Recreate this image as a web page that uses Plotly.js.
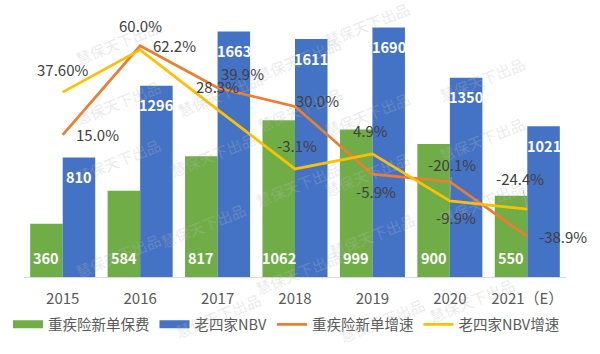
<!DOCTYPE html>
<html>
<head>
<meta charset="utf-8">
<script src="https://cdn.plot.ly/plotly-3.0.1.min.js"></script>
<style>html,body{margin:0;padding:0;background:#fff;}#chart{width:600px;height:354px;}</style>
</head>
<body>
<div id="chart"></div>
<script>
// ---- data ----
const years = ['2015', '2016', '2017', '2018', '2019', '2020', '2021（E）'];
const premium = [360, 584, 817, 1062, 999, 900, 550];          // 重疾险新单保费
const nbv = [810, 1296, 1663, 1611, 1690, 1350, 1021];         // 老四家NBV
const premiumGrowth = [15.0, 62.2, 39.9, 30.0, -5.9, -9.9, -38.9]; // 重疾险新单增速 (%)
const nbvGrowth = [37.6, 60.0, 28.3, -3.1, 4.9, -20.1, -24.4];     // 老四家NBV增速 (%)
const premiumGrowthLabels = ['15.0%', '62.2%', '39.9%', '30.0%', '-5.9%', '-9.9%', '-38.9%'];
const nbvGrowthLabels = ['37.60%', '60.0%', '28.3%', '-3.1%', '4.9%', '-20.1%', '-24.4%'];
const seriesNames = ['重疾险新单保费', '老四家NBV', '重疾险新单增速', '老四家NBV增速'];
const watermarkText = '慧保天下出品';

// ---- styles ----
const FONT = '"Noto Sans CJK SC", "Noto Sans", sans-serif';
const C_GREEN = '#70ad47', C_BLUE = '#4472c4', C_ORANGE = '#ed7d31', C_YELLOW = '#ffc000';
const W = 600, H = 354, ML = 24, MR = 34, MT = 5, MB = 76.5;
const PW = W - ML - MR, PH = H - MT - MB;

// label offsets (pixels) for growth labels
const orangeOff = [[35,0],[34,0],[25,14],[22,6],[4,-17],[6,-36],[36,0]];
const yellowOff = [[0,23],[0,24],[0,23],[2,23],[-2,23],[2,36],[-7,31]];
const yellowLeader = [false,false,false,false,false,true,true];

// watermark pixel positions
const wmPos = [
  [70,13],[70,103],[70,190],[70,285],
  [172,65],[165,155],[155,255],[170,345],
  [298,30],[300,110],[298,214],[298,302],
  [415,-5],[415,85],[415,175],[420,265],[430,350],
  [530,50],[530,140],[530,232],[520,330]
];

const traces = [
  {type:'scatter', x:[years[0]], y:[null], mode:'lines', name:seriesNames[0], line:{color:C_GREEN, width:8}, hoverinfo:'skip'},
  {type:'scatter', x:[years[0]], y:[null], mode:'lines', name:seriesNames[1], line:{color:C_BLUE, width:8}, hoverinfo:'skip'},
  {type:'bar', x:years, y:premium, name:seriesNames[0], marker:{color:C_GREEN}, showlegend:false},
  {type:'bar', x:years, y:nbv, name:seriesNames[1], marker:{color:C_BLUE}, showlegend:false},
  {type:'scatter', mode:'lines', x:years, y:premiumGrowth, yaxis:'y2', name:seriesNames[2], line:{color:C_ORANGE, width:2.75}},
  {type:'scatter', mode:'lines', x:years, y:nbvGrowth, yaxis:'y2', name:seriesNames[3], line:{color:C_YELLOW, width:2.75}}
];

const annotations = [];
wmPos.forEach(p => {
  annotations.push({xref:'paper', yref:'paper', x:(p[0]-ML)/PW, y:(H-MB-p[1])/PH,
    text:watermarkText, showarrow:false, textangle:-22,
    font:{family:FONT, size:15, color:'rgba(185,185,185,0.30)'}});
});
years.forEach((yr, i) => {
  annotations.push({xref:'x', yref:'y', x:i, y:0, text:String(premium[i]), showarrow:false,
    xshift:-16.25, yshift:19.5, font:{family:FONT, size:14.5, color:'#ffffff', weight:'bold'}});
  annotations.push({xref:'x', yref:'y', x:i, y:nbv[i], text:String(nbv[i]), showarrow:false,
    xshift:16.25, yshift:-19, font:{family:FONT, size:14.5, color:'#ffffff', weight:'bold'}});
});
const lblFont = {family:FONT, size:15, color:'#404040'};
years.forEach((yr, i) => {
  annotations.push({xref:'x', yref:'y2', x:i, y:premiumGrowth[i], text:premiumGrowthLabels[i],
    showarrow:false, xshift:orangeOff[i][0], yshift:orangeOff[i][1], font:lblFont});
  if (yellowLeader[i]) {
    annotations.push({xref:'x', yref:'y2', x:i, y:nbvGrowth[i], text:nbvGrowthLabels[i],
      showarrow:true, arrowhead:0, arrowwidth:0.8, arrowcolor:'#a6a6a6', standoff:2,
      ax:yellowOff[i][0], ay:-yellowOff[i][1], font:lblFont});
  } else {
    annotations.push({xref:'x', yref:'y2', x:i, y:nbvGrowth[i], text:nbvGrowthLabels[i],
      showarrow:false, xshift:yellowOff[i][0], yshift:yellowOff[i][1], font:lblFont});
  }
});

const layout = {
  width:W, height:H,
  margin:{l:ML, r:MR, t:MT, b:MB, pad:0},
  paper_bgcolor:'#ffffff', plot_bgcolor:'#ffffff',
  font:{family:FONT, color:'#595959', size:15},
  barmode:'group', bargap:0.16, bargroupgap:0,
  showlegend:true,
  legend:{orientation:'h', x:(8-ML)/PW, y:-(325-(H-MB))/PH,
    xanchor:'left', yanchor:'middle', font:{family:FONT, size:14.5, color:'#595959'},
    itemwidth:30, traceorder:'normal', bgcolor:'rgba(0,0,0,0)'},
  xaxis:{type:'category', categoryorder:'array', categoryarray:years, range:[-0.5, years.length-0.5],
    showgrid:false, zeroline:false, showline:true, linecolor:'#d9d9d9', linewidth:1,
    ticks:'', ticklabelstandoff:8, tickfont:{family:FONT, size:15, color:'#595959'}},
  yaxis:{range:[0,1842], showgrid:false, zeroline:false, showline:false, showticklabels:false, ticks:''},
  yaxis2:{range:[-60.4,83.8], overlaying:'y', side:'right', showgrid:false, zeroline:false,
    showline:false, showticklabels:false, ticks:''},
  annotations:annotations
};

Plotly.newPlot('chart', traces, layout, {displayModeBar:false, staticPlot:true});
</script>
</body>
</html>
